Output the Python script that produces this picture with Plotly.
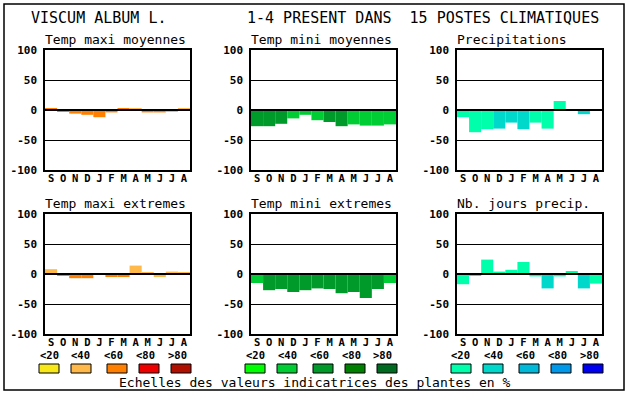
import plotly.graph_objects as go

W, H = 630, 394

months = ["S", "O", "N", "D", "J", "F", "M", "A", "M", "J", "J", "A"]
y_ticks = [-100, -50, 0, 50, 100]
y_ticktext = ["-100", "-50", "0", "50", "100"]
class_labels = ["<20", "<40", "<60", "<80", ">80"]

tmax_moy = [2, -3, -6, -8, -12, -4, 3, 2, -4, -4, -2, 2]
tmax_moy_cls = [2, 2, 2, 2, 2, 2, 2, 1, 2, 2, 1, 1]
tmin_moy = [-27, -27, -23, -14, -8, -17, -20, -27, -24, -26, -26, -24]
tmin_moy_cls = [2, 2, 2, 1, 1, 1, 2, 2, 1, 1, 1, 1]
precip = [-12, -37, -32, -31, -21, -32, -21, -31, 15, 0, -7, 0]
precip_cls = [0, 0, 0, 1, 1, 1, 0, 0, 0, 0, 1, 0]
tmax_ext = [8, -2, -7, -7, -1, -5, -5, 14, 2, -5, 4, 2]
tmax_ext_cls = [1, 2, 2, 2, 1, 2, 2, 1, 1, 1, 1, 1]
tmin_ext = [-15, -27, -25, -30, -27, -24, -25, -32, -30, -40, -25, -15]
tmin_ext_cls = [1, 2, 2, 2, 2, 2, 2, 2, 2, 2, 2, 1]
nb_jours = [-17, -2, 24, 4, 7, 20, -4, -24, -4, 5, -24, -16]
nb_jours_cls = [0, 0, 0, 0, 0, 0, 0, 1, 0, 0, 1, 0]

orange_pal = ["#f8e818", "#ffb84a", "#ff8000", "#ee0000", "#b01000"]
green_pal = ["#00ff00", "#00cc33", "#009a2a", "#008000", "#006a20"]
cyan_pal = ["#00ffaa", "#00d8cc", "#00b8d8", "#0098e8", "#0000f0"]

titles = ["Temp maxi moyennes", "Temp mini moyennes", "Precipitations",
          "Temp maxi extremes", "Temp mini extremes", "Nb. jours precip."]
series = [(tmax_moy, tmax_moy_cls, orange_pal), (tmin_moy, tmin_moy_cls, green_pal),
          (precip, precip_cls, cyan_pal), (tmax_ext, tmax_ext_cls, orange_pal),
          (tmin_ext, tmin_ext_cls, green_pal), (nb_jours, nb_jours_cls, cyan_pal)]

MONO = "DejaVu Sans Mono"
col_left = [45, 251, 457]
PW = 145
row_top = [50, 214]
PH = 120


def px(x):
    return x / W


def py(y):
    return 1 - y / H


fig = go.Figure()
layout = dict(width=W, height=H, margin=dict(l=0, r=0, t=0, b=0, autoexpand=False),
              paper_bgcolor="white", plot_bgcolor="white", showlegend=False)
shapes = []
annotations = []

for i, (vals, cls, pal) in enumerate(series):
    r, c = divmod(i, 3)
    n = "" if i == 0 else str(i + 1)
    fig.add_trace(go.Bar(x=list(range(len(months))), y=vals,
                         marker=dict(color=[pal[k] for k in cls], line=dict(width=0)),
                         width=1, xaxis="x" + n, yaxis="y" + n, hoverinfo="skip"))
    x0, y0 = col_left[c], row_top[r]
    layout["xaxis" + n] = dict(domain=[px(x0), px(x0 + PW)], range=[-0.5, 11.5],
                               tickvals=list(range(len(months))), ticktext=months,
                               showgrid=False, zeroline=False, showline=True, mirror=True,
                               linecolor="black", linewidth=1.5, ticks="", automargin=False,
                               ticklabelstandoff=-2,
                               tickfont=dict(family=MONO, size=10.5, color="black", weight="bold"),
                               anchor="y" + n, fixedrange=True)
    layout["yaxis" + n] = dict(domain=[py(y0 + PH), py(y0)], range=[-100, 100],
                               tickvals=y_ticks, ticktext=y_ticktext,
                               showgrid=True, gridcolor="black", gridwidth=1.3,
                               zeroline=False, showline=True, mirror=True,
                               linecolor="black", linewidth=1.5, automargin=False,
                               ticks="outside", ticklen=4, tickcolor="rgba(0,0,0,0)",
                               tickfont=dict(family=MONO, size=11, color="black", weight="bold"),
                               anchor="x" + n, fixedrange=True)
    shapes.append(dict(type="line", xref="x" + n + " domain", yref="y" + n,
                       x0=0, x1=1, y0=0, y1=0, line=dict(color="black", width=2), layer="above"))
    annotations.append(dict(text=titles[i], x=px(x0 - 2), y=py(y0 - 11), xref="paper", yref="paper",
                            xanchor="left", yanchor="middle", showarrow=False,
                            font=dict(family=MONO, size=13, color="black")))

# legend boxes
box_off = [4, 36, 72, 104, 136]
lab_off = [4, 36, 68, 100, 132]
for c, pal in enumerate([orange_pal, green_pal, cyan_pal]):
    for k in range(5):
        bx = col_left[c] + box_off[k]
        shapes.append(dict(type="rect", xref="paper", yref="paper",
                           x0=px(bx - 10), x1=px(bx + 10), y0=py(373), y1=py(364),
                           fillcolor=pal[k], line=dict(color="black", width=1)))
        annotations.append(dict(text=class_labels[k], x=px(col_left[c] + lab_off[k]), y=py(354.5),
                                xref="paper", yref="paper", xanchor="center", yanchor="middle",
                                showarrow=False, borderpad=0,
                                font=dict(family=MONO, size=10.5, color="black", weight="bold")))

annotations.append(dict(text="Echelles des valeurs indicatrices des plantes en %", x=px(315), y=py(382),
                        xref="paper", yref="paper", xanchor="center", yanchor="middle", showarrow=False,
                        font=dict(family=MONO, size=13, color="black")))
annotations.append(dict(text="VISCUM ALBUM L.", x=px(29), y=py(18), xref="paper", yref="paper",
                        xanchor="left", yanchor="middle", showarrow=False,
                        font=dict(family=MONO, size=15, color="black")))
annotations.append(dict(text="1-4 PRESENT DANS  15 POSTES CLIMATIQUES", x=px(245), y=py(18),
                        xref="paper", yref="paper", xanchor="left", yanchor="middle", showarrow=False,
                        font=dict(family=MONO, size=15, color="black")))

shapes.append(dict(type="rect", xref="paper", yref="paper", x0=px(4), x1=px(624), y0=py(390), y1=py(4),
                   line=dict(color="black", width=1.5), fillcolor="rgba(0,0,0,0)"))

layout["shapes"] = shapes
layout["annotations"] = annotations
fig.update_layout(**layout)
fig.write_html("out.html", config={"displayModeBar": False},
               post_script="document.body.style.margin='0';document.body.style.overflow='hidden';")
